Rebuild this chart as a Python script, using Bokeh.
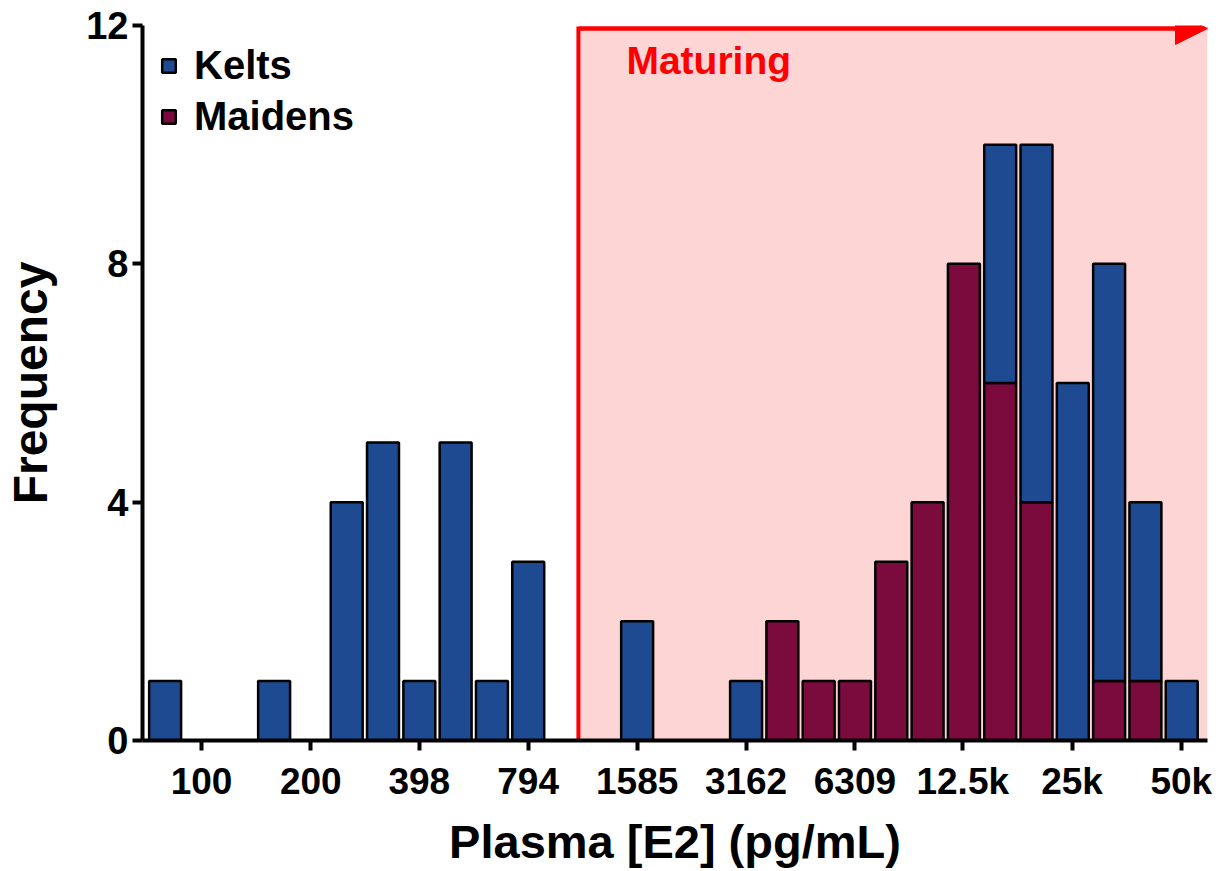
from bokeh.plotting import figure
from bokeh.models import (FixedTicker, Legend, LegendItem, Arrow, NormalHead,
                          BoxAnnotation, Label, Range1d, ColumnDataSource)
from bokeh.embed import file_html
from bokeh.resources import INLINE

# ---- data ----
bin_centers = [79.4, 158.5, 251.2, 316.2, 398.1, 501.2, 631.0, 794.3, 1584.9,
               3162.3, 3981.1, 5011.9, 6309.6, 7943.3, 10000.0, 12589.3,
               15848.9, 19952.6, 25118.9, 31622.8, 39810.7, 50118.7]
kelts = [1, 1, 4, 5, 1, 5, 1, 3, 2, 1, 0, 0, 0, 0, 0, 0, 4, 6, 6, 7, 3, 1]
maidens = [0, 0, 0, 0, 0, 0, 0, 0, 0, 0, 2, 1, 1, 3, 4, 8, 6, 4, 0, 1, 1, 0]
tick_values = [100, 200, 398, 794, 1585, 3162, 6309, 12500, 25000, 50000]
tick_labels = ["100", "200", "398", "794", "1585", "3162", "6309", "12.5k", "25k", "50k"]
y_ticks = [0, 4, 8, 12]
maturing_threshold = 1092
maturing_label = "Maturing"

# ---- styles ----
BLUE = "#1d4a91"
MAROON = "#7b0a3d"
RED = "#ff0000"
PINK = "#fdd5d5"
FONT = "Liberation Sans"
half = 10 ** 0.044          # half bar width in log space
x_start = 10 ** 1.8375
x_end = 10 ** 4.771
arrow_y = 11.95

p = figure(width=1226, height=871, x_axis_type="log",
           x_range=Range1d(x_start, x_end), y_range=Range1d(0, 12),
           output_backend="svg", toolbar_location=None,
           min_border_left=142, min_border_right=19,
           min_border_top=25, min_border_bottom=131)
p.outline_line_color = None
p.grid.grid_line_color = None
p.background_fill_color = "white"

# maturing shaded region
p.add_layout(BoxAnnotation(left=maturing_threshold, bottom=0, top=arrow_y,
                           fill_color=PINK, fill_alpha=1, line_color=None,
                           level="underlay"))

# stacked bars
m_idx = [i for i, v in enumerate(maidens) if v > 0]
k_idx = [i for i, v in enumerate(kelts) if v > 0]
src_m = ColumnDataSource(dict(
    left=[bin_centers[i] / half for i in m_idx],
    right=[bin_centers[i] * half for i in m_idx],
    bottom=[0 for i in m_idx],
    top=[maidens[i] for i in m_idx]))
src_k = ColumnDataSource(dict(
    left=[bin_centers[i] / half for i in k_idx],
    right=[bin_centers[i] * half for i in k_idx],
    bottom=[maidens[i] for i in k_idx],
    top=[maidens[i] + kelts[i] for i in k_idx]))

rm = p.quad(left="left", right="right", bottom="bottom", top="top", source=src_m,
            fill_color=MAROON, line_color="black", line_width=2.5)
rk = p.quad(left="left", right="right", bottom="bottom", top="top", source=src_k,
            fill_color=BLUE, line_color="black", line_width=2.5)

# red bracket + arrow
p.line(x=[maturing_threshold, maturing_threshold, x_end / 10 ** 0.05],
       y=[0, arrow_y, arrow_y], line_color=RED, line_width=4, line_join="miter")
p.add_layout(Arrow(end=NormalHead(size=32, fill_color=RED, line_color=RED, line_width=1),
                   x_start=maturing_threshold, y_start=arrow_y,
                   x_end=x_end, y_end=arrow_y,
                   line_color=RED, line_width=4))
p.add_layout(Label(x=maturing_threshold, y=12, x_offset=48, y_offset=-13,
                   text=maturing_label, text_color=RED, text_font=FONT,
                   text_font_style="bold", text_font_size="39px",
                   text_baseline="top", text_align="left"))

# axes
for ax in (p.xaxis[0], p.yaxis[0]):
    ax.axis_line_width = 4
    ax.axis_line_color = "black"
    ax.major_tick_line_width = 4
    ax.major_tick_line_color = "black"
    ax.major_tick_out = 10
    ax.major_tick_in = 0
    ax.minor_tick_line_color = None
    ax.major_label_text_font = FONT
    ax.major_label_text_font_style = "bold"
    ax.major_label_text_color = "black"
    ax.axis_label_text_font = FONT
    ax.axis_label_text_font_style = "bold"
    ax.axis_label_text_color = "black"

xa = p.xaxis[0]
xa.ticker = FixedTicker(ticks=tick_values)
xa.major_label_overrides = {v: s for v, s in zip(tick_values, tick_labels)}
xa.major_label_text_font_size = "37px"
xa.major_label_standoff = 10
xa.axis_label = "Plasma [E2] (pg/mL)"
xa.axis_label_text_font_size = "47px"
xa.axis_label_standoff = 10

ya = p.yaxis[0]
ya.ticker = FixedTicker(ticks=y_ticks)
ya.major_label_text_font_size = "38px"
ya.major_label_standoff = 4
ya.axis_label = "Frequency"
ya.axis_label_text_font_size = "48px"
ya.axis_label_standoff = 26

legend = Legend(items=[LegendItem(label="Kelts", renderers=[rk]),
                       LegendItem(label="Maidens", renderers=[rm])],
                location="top_left", margin=18, padding=0, spacing=6,
                glyph_width=17, glyph_height=17, label_standoff=17,
                label_text_font=FONT, label_text_font_style="bold",
                label_text_font_size="40px", label_text_color="black",
                background_fill_alpha=0, border_line_color=None)
p.add_layout(legend)

open("out.html", "w").write(file_html(p, INLINE))
